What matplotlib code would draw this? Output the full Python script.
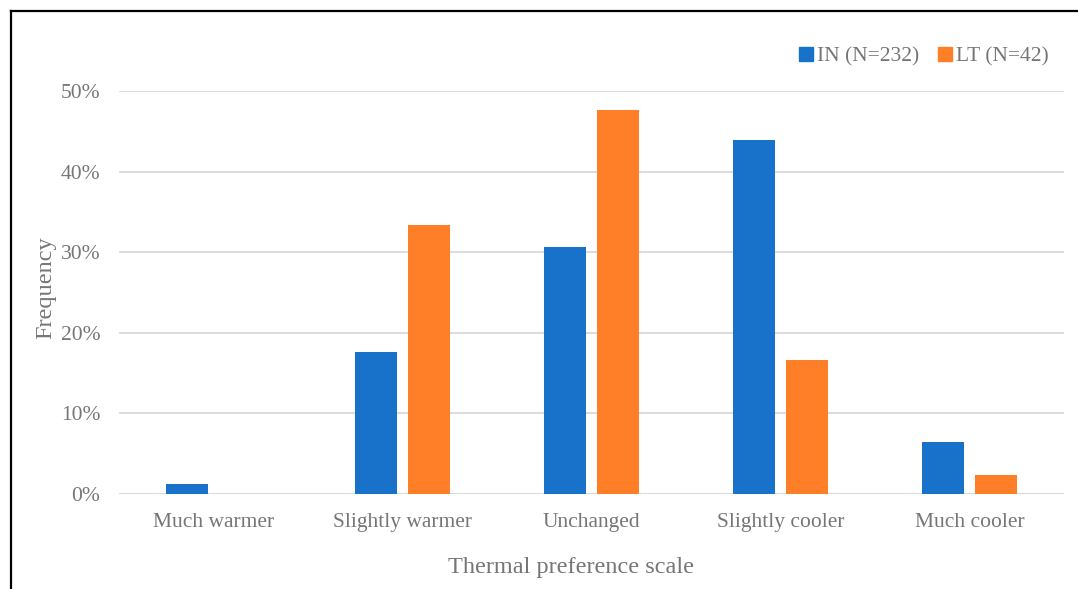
import numpy as np
import matplotlib
matplotlib.use("Agg")
import matplotlib.pyplot as plt
from matplotlib.lines import Line2D
from matplotlib.ticker import FuncFormatter

categories = ["Much warmer", "Slightly warmer", "Unchanged", "Slightly cooler", "Much cooler"]
in_counts = [3, 41, 71, 102, 15]   # IN, N=232
lt_counts = [0, 14, 20, 7, 1]      # LT, N=42
in_pct = [c / 232 * 100 for c in in_counts]
lt_pct = [c / 42 * 100 for c in lt_counts]
series_labels = ["IN (N=232)", "LT (N=42)"]
y_ticks = [0, 10, 20, 30, 40, 50]

BLUE = "#1872C9"
ORANGE = "#FE7F27"
TEXT = "#767676"
GRID = "#D9D9D9"

plt.rcParams["font.family"] = ["Liberation Serif", "DejaVu Serif"]

fig = plt.figure(figsize=(10.78, 5.89), dpi=100)
ax = fig.add_axes([119 / 1078, 1 - 494 / 589, (1064 - 119) / 1078, (494 - 91) / 589])

x = np.arange(len(categories))
w = 0.222
off = 0.1405
ax.bar(x - off, in_pct, width=w, color=BLUE, zorder=3, label=series_labels[0])
ax.bar(x + off, lt_pct, width=w, color=ORANGE, zorder=3, label=series_labels[1])

ax.set_xlim(-0.5, len(categories) - 0.5)
ax.set_ylim(0, 50)
ax.set_yticks(y_ticks)
ax.yaxis.set_major_formatter(FuncFormatter(lambda v, p: f"{v:.0f}%"))
ax.grid(axis="y", color=GRID, linewidth=1.3, zorder=0)
ax.set_xticks(x)
ax.set_xticklabels(categories)
for s in ax.spines.values():
    s.set_visible(False)
ax.axhline(0, color=GRID, linewidth=1.3, zorder=2)
ax.tick_params(axis="both", length=0, labelsize=15.5, labelcolor=TEXT)
ax.tick_params(axis="y", pad=13.5)
ax.tick_params(axis="x", pad=13.6)

# axis titles placed in figure coordinates
fig.text(571 / 1078, 1 - 567 / 589, "Thermal preference scale", fontsize=17.5, color=TEXT,
         ha="center", va="center")
fig.text(46 / 1078, 1 - 288 / 589, "Frequency", fontsize=17.5, color=TEXT,
         ha="center", va="center", rotation=90)

handles = [Line2D([], [], marker="s", linestyle="none", markersize=9.5, color=BLUE),
           Line2D([], [], marker="s", linestyle="none", markersize=9.5, color=ORANGE)]
leg = fig.legend(handles, series_labels, loc="center right",
                 bbox_to_anchor=(1057 / 1078, 1 - 56 / 589), ncol=2, frameon=False,
                 fontsize=15.5, handletextpad=0.1, columnspacing=0.8, handlelength=0.8,
                 borderaxespad=0)
for t in leg.get_texts():
    t.set_color(TEXT)

# frame lines along the left and top edges
fig.add_artist(Line2D([10.5 / 1078, 10.5 / 1078], [0, 1 - 10.5 / 589], transform=fig.transFigure,
                      color="black", linewidth=1.6))
fig.add_artist(Line2D([10.5 / 1078, 1], [1 - 10.5 / 589, 1 - 10.5 / 589], transform=fig.transFigure,
                      color="black", linewidth=1.6))

fig.savefig("out.png", dpi=100, facecolor="white")
